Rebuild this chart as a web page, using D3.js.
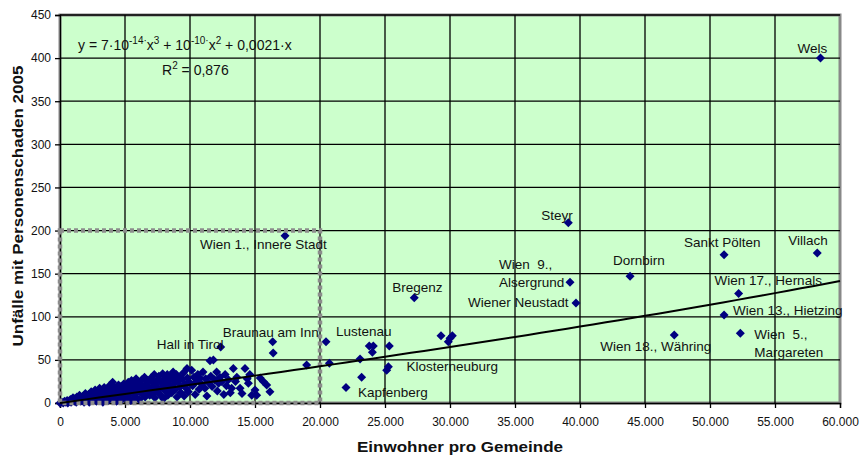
<!DOCTYPE html>
<meta charset="utf-8">
<script src="https://d3js.org/d3.v7.min.js"></script>
<style>
  body { margin: 0; background: #fff; }
  text { font-family: "Liberation Sans", Arial, sans-serif; fill: #111; }
</style>
<body>
<svg id="vis" width="862" height="461"></svg>
<script>
// labelled municipalities
var cityNames = ["Wels", "Steyr", "Wien  9., Alsergrund", "Wiener Neustadt", "Bregenz", "Dornbirn",
  "Sankt Pölten", "Villach", "Wien 17., Hernals", "Wien 13., Hietzing", "Wien  5., Margareten",
  "Wien 18., Währing", "Wien 1., Innere Stadt", "Braunau am Inn", "Hall in Tirol", "Lustenau",
  "Klosterneuburg", "Kapfenberg"];
var cityPop = [58500, 39100, 39230, 39690, 27250, 43850, 51080, 58250, 52200, 51080, 52330,
  47250, 17310, 16360, 12360, 20460, 25260, 22000];
var cityAcc = [400, 209, 140, 116, 122, 147, 172, 174, 127, 102, 81, 79, 194, 71, 65, 71, 42, 18];

// all other municipalities [Einwohner, Unfälle]
var otherPoints = [
  [0,0],[150,1],[250,0],[350,2],[450,1],[550,3],[600,0],[700,2],[800,4],[850,1],[950,3],[1000,6],
  [1100,2],[1150,5],[1250,1],[1300,7],[1400,3],[1450,5],[1500,9],[1600,2],[1650,6],[1700,4],[1800,8],
  [1850,1],[1900,5],[1950,11],[2050,3],[2100,7],[2200,10],[2250,1],[2300,5],[2400,13],[2450,8],[2500,3],
  [2600,11],[2650,6],[2700,15],[2800,2],[2850,9],[2900,12],[3000,7],[3050,17],[3100,4],[3200,14],
  [3250,10],[3300,1],[3400,18],[3450,6],[3500,12],[3600,9],[3650,16],[3700,3],[3800,20],[3850,11],
  [3900,7],[4000,14],[4050,24],[4100,5],[4200,18],[4300,10],[4350,2],[4400,15],[4500,21],[4550,8],
  [4600,13],[4700,19],[4750,4],[4800,11],[4900,22],[4950,16],[5050,6],[5100,20],[5200,13],[5250,24],
  [5300,9],[5400,18],[5450,3],[5500,26],[5600,15],[5650,11],[5700,22],[5800,7],[5850,28],[5900,17],
  [6000,13],[6050,24],[6100,4],[6200,20],[6300,27],[6350,10],[6400,16],[6500,30],[6550,7],[6600,22],
  [6700,14],[6750,26],[6800,19],[6900,9],[7000,29],[7050,17],[7100,24],[7200,12],[7250,33],[7300,6],
  [7400,21],[7500,27],[7550,15],[7600,31],[7700,10],[7800,24],[7850,18],[7900,34],[7950,5],[8050,28],
  [8100,14],[8200,22],[8250,33],[8300,9],[8400,26],[8450,18],[8500,31],[8600,12],[8700,36],[8750,22],
  [8800,27],[8900,16],[8950,33],[9000,7],[9100,25],[9200,30],[9250,19],[9300,12],[9400,28],[9500,35],
  [9550,8],[9600,22],[9700,17],[9770,40],[9800,29],[9870,13],[9950,24],[10130,38],[10200,20],[10300,30],
  [10400,10],[10500,25],[10600,33],[10700,16],[10770,29],[10900,22],[11000,36],[11150,17],[11200,28],
  [11300,8],[11400,24],[11540,49],[11600,31],[11700,19],[11800,50],[11900,27],[12050,36],[12100,14],
  [12200,23],[12300,30],[12440,25],[12600,10],[12700,33],[12800,20],[12950,27],[13100,12],[13200,17],
  [13330,40],[13500,25],[13600,30],[13850,17],[14000,11],[14230,40],[14400,28],[14490,23],[14600,33],
  [14750,9],[15000,15],[15130,9],[15400,29],[15640,25],[15900,21],[16150,13],[16400,58],[18970,44],
  [20720,46],[23080,51],[23200,30],[23790,66],[24030,59],[24100,66],[25330,66],[25130,38],[29310,78],
  [29870,71],[30180,78],[30000,75]
];

// polynomial trendline y = a*x^3 + b*x^2 + c*x, and the zoom box
var trendCoef = [7e-14, 1e-10, 0.0021];
var zoomBox = [20000, 200];

var xTickValues = [0, 5000, 10000, 15000, 20000, 25000, 30000, 35000, 40000, 45000, 50000, 55000, 60000];
var yTickValues = [0, 50, 100, 150, 200, 250, 300, 350, 400, 450];

var margin = {top: 15, right: 22, bottom: 58, left: 60},
    width = 862 - margin.left - margin.right,
    height = 461 - margin.top - margin.bottom;

var svg = d3.select("#vis").append("g")
    .attr("transform", "translate(" + margin.left + "," + margin.top + ")");

var x = d3.scaleLinear().domain([0, 60000]).range([0, width]);
var y = d3.scaleLinear().domain([0, 450]).range([height, 0]);

var de = d3.formatLocale({decimal: ",", thousands: ".", grouping: [3], currency: ["", ""]});
var fmt = de.format(",");

// plot area
svg.append("rect")
  .attr("width", width).attr("height", height)
  .attr("fill", "#ccffcc")
  .attr("stroke", "#888").attr("stroke-width", 3);

// gridlines
svg.append("g").selectAll("line").data(yTickValues.slice(1)).enter().append("line")
  .attr("x1", 0).attr("x2", width)
  .attr("y1", function(d) { return y(d); }).attr("y2", function(d) { return y(d); })
  .attr("stroke", "#000").attr("stroke-width", 1.3);
svg.append("g").selectAll("line").data(xTickValues.slice(1, -1)).enter().append("line")
  .attr("y1", 0).attr("y2", height)
  .attr("x1", function(d) { return x(d); }).attr("x2", function(d) { return x(d); })
  .attr("stroke", "#000").attr("stroke-width", 1.3);

// axes
var xAxis = svg.append("g")
  .attr("transform", "translate(0," + height + ")")
  .call(d3.axisBottom(x).tickValues(xTickValues).tickFormat(fmt).tickSize(5).tickPadding(9));
var yAxis = svg.append("g")
  .call(d3.axisLeft(y).tickValues(yTickValues).tickSize(5).tickPadding(4));
[xAxis, yAxis].forEach(function(a) {
  a.selectAll("path").attr("stroke", "#000").attr("stroke-width", 1.3);
  a.selectAll("line").attr("stroke", "#000").attr("stroke-width", 1.3);
  a.selectAll("text").attr("font-size", "12px")
    .attr("font-family", "'Liberation Sans', Arial, sans-serif").attr("fill", "#111");
});

// markers
var diamond = "M0,-4.5L4.5,0L0,4.5L-4.5,0Z";
var allPoints = otherPoints.concat(cityPop.map(function(p, i) { return [p, cityAcc[i]]; }));
svg.append("g").selectAll("path").data(allPoints).enter().append("path")
  .attr("d", diamond)
  .attr("transform", function(d) { return "translate(" + x(d[0]) + "," + y(d[1]) + ")"; })
  .attr("fill", "#000080");

// dashed box
svg.append("rect")
  .attr("x", x(0)).attr("y", y(zoomBox[1]))
  .attr("width", x(zoomBox[0]) - x(0)).attr("height", y(0) - y(zoomBox[1]))
  .attr("fill", "none").attr("stroke", "#8c8c8c").attr("stroke-width", 4.5)
  .attr("stroke-dasharray", "4,3");

// trendline
var trendX = d3.range(0, 60001, 1000);
svg.append("path")
  .datum(trendX)
  .attr("d", d3.line()
    .x(function(d) { return x(d); })
    .y(function(d) { return y(trendCoef[0]*d*d*d + trendCoef[1]*d*d + trendCoef[2]*d); }))
  .attr("fill", "none").attr("stroke", "#000").attr("stroke-width", 2);

// point labels (pixel offset from the marker)
var labelOffset = {
  "Wels": [-23, -5], "Steyr": [-27, -3], "Wien  9., Alsergrund": [-71, -13],
  "Wiener Neustadt": [-108, 4], "Bregenz": [-22, -6], "Dornbirn": [-17, -11],
  "Sankt Pölten": [-40, -8], "Villach": [-29, -8], "Wien 17., Hernals": [-24, -8],
  "Wien 13., Hietzing": [9, 0], "Wien  5., Margareten": [14, 6], "Wien 18., Währing": [-74, 16],
  "Wien 1., Innere Stadt": [-85, 13], "Braunau am Inn": [-50, -5], "Hall in Tirol": [-64, 2],
  "Lustenau": [10, -6], "Klosterneuburg": [18, 4], "Kapfenberg": [12, 10]
};
var lbl = svg.append("g");
cityNames.forEach(function(name, i) {
  var off = labelOffset[name];
  var px = x(cityPop[i]) + off[0], py = y(cityAcc[i]) + off[1];
  var t = lbl.append("text").attr("x", px).attr("y", py).attr("font-size", "13.5px")
    .attr("fill", "#222").attr("xml:space", "preserve");
  var lines = name.indexOf("Wien  ") === 0 ? [name.split(", ")[0] + ",", name.split(", ")[1]] : [name];
  lines.forEach(function(s, k) {
    t.append("tspan").attr("x", px).attr("dy", k === 0 ? 0 : 18).text(s);
  });
});

// equation
var eq = svg.append("text").attr("x", 18).attr("y", 35).attr("font-size", "14px").attr("fill", "#222");
var parts = [["y = 7·10", 0], ["-14·", 1], ["x", 0], ["3", 1], [" + 10", 0], ["-10·", 1], ["x", 0], ["2", 1], [" + 0,0021·x", 0]];
var prev = 0;
parts.forEach(function(p) {
  eq.append("tspan").attr("dy", (p[1] - prev) * -6).attr("font-size", p[1] ? "10px" : "14px").text(p[0]);
  prev = p[1];
});
var r2 = svg.append("text").attr("x", 102).attr("y", 60).attr("font-size", "14px").attr("fill", "#222");
r2.append("tspan").text("R");
r2.append("tspan").attr("dy", -6).attr("font-size", "10px").text("2");
r2.append("tspan").attr("dy", 6).text(" = 0,876");

// axis titles
svg.append("text")
  .attr("x", width / 2 + 10).attr("y", height + 49)
  .attr("text-anchor", "middle").attr("font-weight", "bold").attr("font-size", "14px")
  .attr("textLength", 206).attr("lengthAdjust", "spacingAndGlyphs")
  .text("Einwohner pro Gemeinde");
svg.append("text")
  .attr("transform", "translate(-37," + (height / 2 - 3) + ") rotate(-90)")
  .attr("text-anchor", "middle").attr("font-weight", "bold").attr("font-size", "14px")
  .attr("textLength", 281).attr("lengthAdjust", "spacingAndGlyphs")
  .text("Unfälle mit Personenschaden 2005");
</script>
</body>
